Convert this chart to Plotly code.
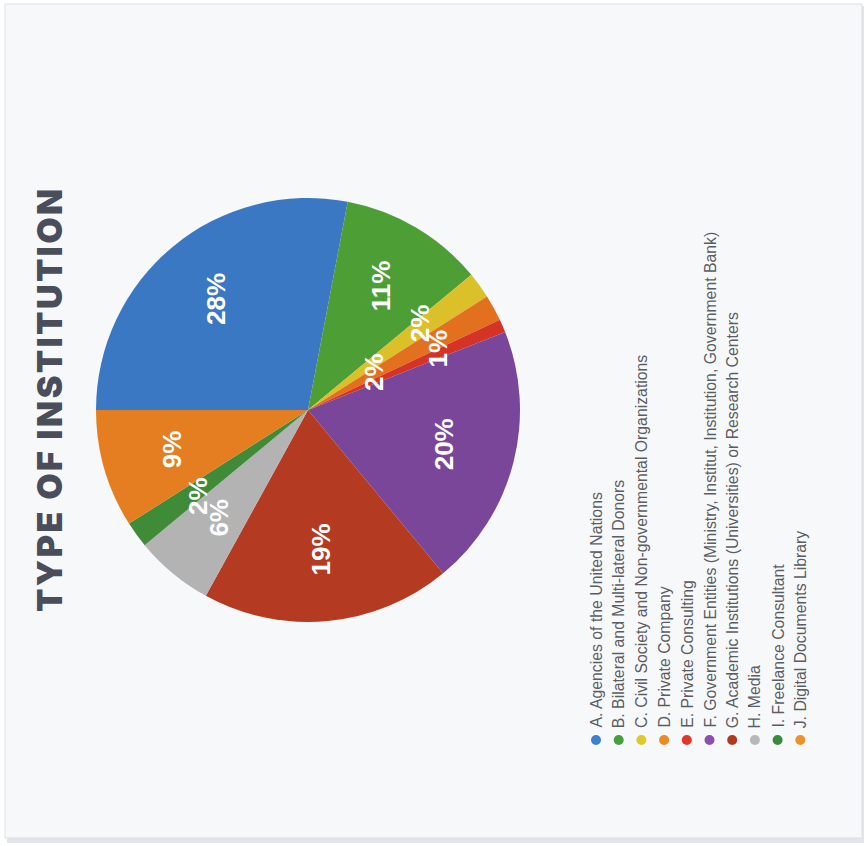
import math
import plotly.graph_objects as go

# ---- data ----
categories = [
    "A. Agencies of the United Nations",
    "B. Bilateral and Multi-lateral Donors",
    "C. Civil Society and Non-governmental Organizations",
    "D. Private Company",
    "E. Private Consulting",
    "F. Government Entities (Ministry, Institut, Institution, Government Bank)",
    "G. Academic Institutions (Universities) or Research Centers",
    "H. Media",
    "I. Freelance Consultant",
    "J. Digital Documents Library",
]
values = [28, 11, 2, 2, 1, 20, 19, 6, 2, 9]
slice_colors = ["#3b78c4", "#4c9e35", "#dcc02a", "#e3701f", "#d63327",
                "#7a4699", "#b43a22", "#b3b3b3", "#3f8b38", "#e47e20"]
legend_dot_colors = ["#3d7fd0", "#44a03a", "#e0c82a", "#ee8a20", "#e0382a",
                     "#8a4fb0", "#b03a20", "#b8b8b8", "#3a8a3a", "#f0902a"]
title_text = "TYPE OF INSTITUTION"

# ---- layout constants ----
W, H = 865, 846
CX, CY, R = 308, 410, 212          # pie centre and radius in pixels
ROTATION = 270                       # first slice starts at 9 o'clock
label_r = [0.68, 0.68, 0.36, 0.67, 0.68, 0.66, 0.66, 0.66, 0.66, 0.67]
label_dang = [0, 0, -6, 9, 2, 0, 0, 0, 2, 0]
LEG_X0, LEG_DX, LEG_DOT_Y, LEG_TEXT_B, DOT_R = 596, 22.7, 740, 730, 5

fig = go.Figure()
fig.add_trace(go.Pie(
    labels=categories, values=values, sort=False, direction="clockwise",
    rotation=ROTATION, textinfo="none", hoverinfo="label+percent",
    marker=dict(colors=slice_colors, line=dict(width=0)),
    domain=dict(x=[(CX - R) / W, (CX + R) / W],
                y=[1 - (CY + R) / H, 1 - (CY - R) / H]),
    showlegend=False,
))

total = sum(values)
start = 90 - ROTATION
cum = 0
annotations = []
for i, v in enumerate(values):
    mid = start - 360 * (cum + v / 2) / total + label_dang[i]
    cum += v
    t = math.radians(mid)
    annotations.append(dict(
        x=CX / W + label_r[i] * R * math.cos(t) / W,
        y=1 - CY / H + label_r[i] * R * math.sin(t) / H,
        xref="paper", yref="paper", showarrow=False, textangle=-90,
        text="<b>%d%%</b>" % round(100 * v / total),
        font=dict(family="Liberation Sans, Arial", size=26, color="white"),
        xanchor="center", yanchor="middle"))

shapes = [
    dict(type="rect", xref="paper", yref="paper", layer="below",
         x0=7 / W, x1=864 / W, y0=1 - 843 / H, y1=1 - 6 / H,
         fillcolor="#e4e5e8", line=dict(width=0)),
    dict(type="rect", xref="paper", yref="paper", layer="below",
         x0=5 / W, x1=862 / W, y0=1 - 838 / H, y1=1 - 4 / H,
         fillcolor="#f7f8fa", line=dict(color="#dedfe2", width=1)),
]

for i, (name, col) in enumerate(zip(categories, legend_dot_colors)):
    lx = LEG_X0 + i * LEG_DX
    annotations.append(dict(
        x=lx / W, y=1 - LEG_TEXT_B / H,
        xref="paper", yref="paper", showarrow=False, textangle=-90,
        text=name,
        font=dict(family="Liberation Sans, Arial", size=15.8, color="#5a5d63"),
        xanchor="center", yanchor="bottom"))
    shapes.append(dict(
        type="circle", xref="paper", yref="paper",
        x0=(lx - DOT_R) / W, x1=(lx + DOT_R) / W,
        y0=1 - (LEG_DOT_Y + DOT_R) / H, y1=1 - (LEG_DOT_Y - DOT_R) / H,
        fillcolor=col, line=dict(width=0)))

annotations.append(dict(
    x=50 / W, y=1 - 399 / H, xref="paper", yref="paper", showarrow=False,
    textangle=-90, text='<span style="letter-spacing:2.5px">%s</span>' % title_text,
    font=dict(family="Inter, Roboto, DejaVu Sans", size=34, color="#4a4e5a", weight=900),
    xanchor="center", yanchor="middle"))

fig.update_layout(
    width=W, height=H, margin=dict(l=0, r=0, t=0, b=0),
    paper_bgcolor="white", plot_bgcolor="white",
    annotations=annotations, shapes=shapes, showlegend=False,
)
fig.write_html("out.html")
